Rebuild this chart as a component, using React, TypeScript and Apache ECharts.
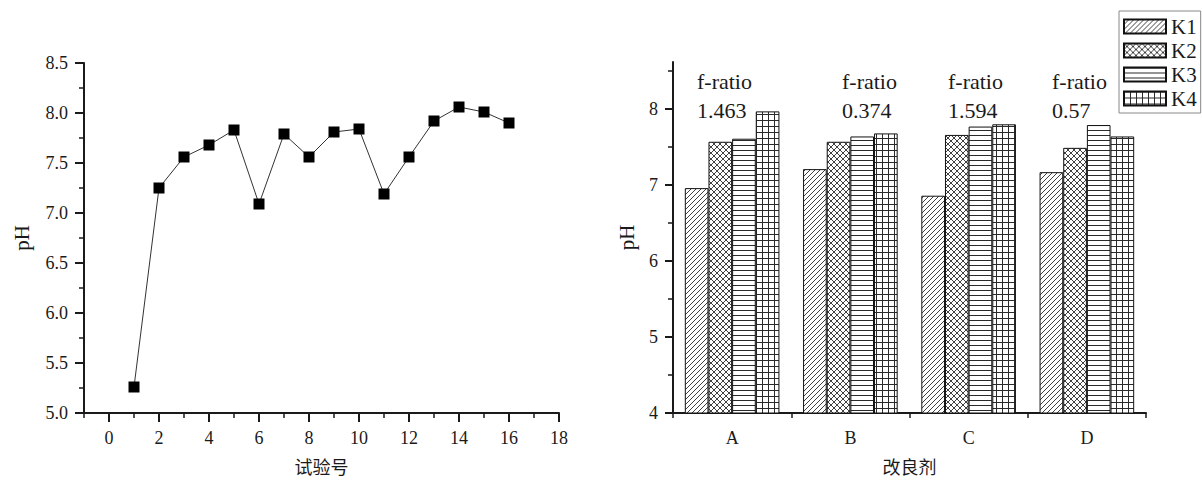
import React, { useEffect, useRef } from "react";
import * as echarts from "echarts";

// ---- Left chart data ----
const trialNos = [1, 2, 3, 4, 5, 6, 7, 8, 9, 10, 11, 12, 13, 14, 15, 16];
const phValues = [5.26, 7.25, 7.56, 7.68, 7.83, 7.09, 7.79, 7.56, 7.81, 7.84, 7.19, 7.56, 7.92, 8.06, 8.01, 7.9];
const leftMajorX = [0, 2, 4, 6, 8, 10, 12, 14, 16, 18];
const leftMinorX = [-1, 1, 3, 5, 7, 9, 11, 13, 15, 17];

// ---- Right chart data ----
const amendments = ["A", "B", "C", "D"];
const seriesNames = ["K1", "K2", "K3", "K4"];
const k1 = [6.96, 7.21, 6.86, 7.17];
const k2 = [7.57, 7.57, 7.66, 7.49];
const k3 = [7.61, 7.64, 7.77, 7.79];
const k4 = [7.97, 7.68, 7.8, 7.64];
const fRatios = ["1.463", "0.374", "1.594", "0.57"];
const rightMajorTicks = [4, 5, 6, 7, 8];
const rightMinorTicks = [4.5, 5.5, 6.5, 7.5, 8.5];
const categoryBounds = [0, 1, 2, 3, 4];

const SERIF = "'Liberation Serif', 'Times New Roman', serif";
const CJK = "'Liberation Serif', 'Noto Sans CJK SC', serif";
const INK = "#1a1a1a";

function makePattern(kind: string) {
  const c = document.createElement("canvas");
  let w = 6, h = 6;
  if (kind === "d") { w = 5; h = 5; }
  if (kind === "h") { w = 6; h = 5; }
  c.width = w; c.height = h;
  const ctx = c.getContext("2d")!;
  ctx.fillStyle = "#ffffff";
  ctx.fillRect(0, 0, w, h);
  ctx.strokeStyle = "#2a2a2a";
  ctx.fillStyle = "#2a2a2a";
  ctx.lineWidth = 0.9;
  const diag = (dir: number) => {
    ctx.beginPath();
    for (let k = -1; k <= 1; k++) {
      if (dir > 0) {
        ctx.moveTo(k * w - 1, h + 1);
        ctx.lineTo(k * w + w + 1, -1);
      } else {
        ctx.moveTo(k * w - 1, -1);
        ctx.lineTo(k * w + w + 1, h + 1);
      }
    }
    ctx.stroke();
  };
  if (kind === "d") diag(1);
  if (kind === "x") { diag(1); diag(-1); }
  if (kind === "h") ctx.fillRect(0, 0, w, 1);
  if (kind === "g") { ctx.fillRect(0, 0, w, 1); ctx.fillRect(0, 0, 1, h); }
  return { image: c.toDataURL(), repeat: "repeat", imageWidth: w, imageHeight: h } as any;
}

export default function App() {
  const ref = useRef<HTMLDivElement>(null);
  useEffect(() => {
    document.body.style.margin = "0";
    const chart = echarts.init(ref.current!, null, { renderer: "svg" });
    const patterns = [makePattern("d"), makePattern("x"), makePattern("h"), makePattern("g")];
    const barData = [k1, k2, k3, k4];

    const labelStyle = { fontFamily: SERIF, fontSize: 18, color: INK };
    const lineAxis = { onZero: false, lineStyle: { color: INK, width: 2 } };
    const hiddenLine = { show: false, onZero: false };

    const graphics: any[] = [];
    const fx = [697, 842, 948, 1052];
    fRatios.forEach((v, i) => {
      graphics.push({
        type: "text", left: fx[i], top: 70,
        style: { text: "f-ratio", font: "22px 'Liberation Serif'", fill: INK },
      });
      graphics.push({
        type: "text", left: fx[i], top: 99,
        style: { text: v, font: "22px 'Liberation Serif'", fill: INK },
      });
    });

    chart.setOption({
      animation: false,
      backgroundColor: "#ffffff",
      grid: [
        { left: 84, top: 63, width: 475, height: 350 },
        { left: 673, top: 62, width: 473, height: 351 },
      ],
      legend: {
        data: seriesNames,
        orient: "vertical",
        left: 1119,
        top: 11,
        itemWidth: 42,
        itemHeight: 14,
        itemGap: 3,
        padding: [5, 4, 4, 4],
        borderColor: "#888888",
        borderWidth: 1,
        icon: "rect",
        textStyle: { fontFamily: SERIF, fontSize: 21, lineHeight: 21, color: INK },
      },
      xAxis: [
        {
          type: "value", gridIndex: 0, position: "bottom", min: -1, max: 18,
          name: "试验号", nameLocation: "middle", nameGap: 46,
          nameTextStyle: { fontFamily: CJK, fontSize: 18, color: INK },
          axisLine: lineAxis,
          axisTick: { length: 9, customValues: leftMajorX, lineStyle: { color: INK, width: 2 } },
          axisLabel: { ...labelStyle, margin: 16, customValues: leftMajorX },
          splitLine: { show: false },
        },
        {
          type: "value", gridIndex: 0, position: "bottom", min: -1, max: 18,
          axisLine: hiddenLine,
          axisTick: { length: 5, customValues: leftMinorX, lineStyle: { color: INK, width: 1.5 } },
          axisLabel: { show: false },
          splitLine: { show: false },
        },
        {
          type: "category", gridIndex: 1, position: "bottom", data: amendments,
          name: "改良剂", nameLocation: "middle", nameGap: 46,
          nameTextStyle: { fontFamily: CJK, fontSize: 18, color: INK },
          axisLine: lineAxis,
          axisTick: { alignWithLabel: true, length: 9, lineStyle: { color: INK, width: 2 } },
          axisLabel: { ...labelStyle, margin: 16 },
          splitLine: { show: false },
        },
        {
          type: "value", gridIndex: 1, position: "bottom", min: 0, max: 4,
          axisLine: hiddenLine,
          axisTick: { length: 5, customValues: categoryBounds, lineStyle: { color: INK, width: 1.5 } },
          axisLabel: { show: false },
          splitLine: { show: false },
        },
      ],
      yAxis: [
        {
          type: "value", gridIndex: 0, position: "left", min: 5, max: 8.5, interval: 0.5,
          name: "pH", nameLocation: "middle", nameGap: 52,
          nameTextStyle: { fontFamily: SERIF, fontSize: 21, color: INK },
          axisLine: lineAxis,
          axisTick: { length: 9, lineStyle: { color: INK, width: 2 } },
          minorTick: { show: true, splitNumber: 2, length: 5, lineStyle: { color: INK, width: 1.5 } },
          axisLabel: { ...labelStyle, margin: 16, formatter: (v: number) => v.toFixed(1) },
          splitLine: { show: false },
        },
        {
          type: "value", gridIndex: 1, position: "left", min: 4, max: 8.62,
          name: "pH", nameLocation: "middle", nameGap: 36,
          nameTextStyle: { fontFamily: SERIF, fontSize: 21, color: INK },
          axisLine: lineAxis,
          axisTick: { length: 8, customValues: rightMajorTicks, lineStyle: { color: INK, width: 2 } },
          axisLabel: { ...labelStyle, margin: 15, customValues: rightMajorTicks },
          splitLine: { show: false },
        },
        {
          type: "value", gridIndex: 1, position: "left", min: 4, max: 8.62,
          axisLine: hiddenLine,
          axisTick: { length: 5, customValues: rightMinorTicks, lineStyle: { color: INK, width: 1.5 } },
          axisLabel: { show: false },
          splitLine: { show: false },
        },
      ],
      series: [
        {
          type: "line",
          xAxisIndex: 0,
          yAxisIndex: 0,
          data: trialNos.map((x, i) => [x, phValues[i]]),
          symbol: "rect",
          symbolSize: 11,
          itemStyle: { color: "#000000" },
          lineStyle: { color: "#333333", width: 1 },
        },
        ...seriesNames.map((name, i) => ({
          name,
          type: "bar",
          xAxisIndex: 2,
          yAxisIndex: 1,
          data: barData[i],
          barGap: "0%",
          barCategoryGap: "20%",
          itemStyle: { color: patterns[i], borderColor: "#111111", borderWidth: 1 },
        })),
      ],
      graphic: graphics,
    });
    return () => chart.dispose();
  }, []);
  return <div ref={ref} style={{ width: 1202, height: 488 }} />;
}
